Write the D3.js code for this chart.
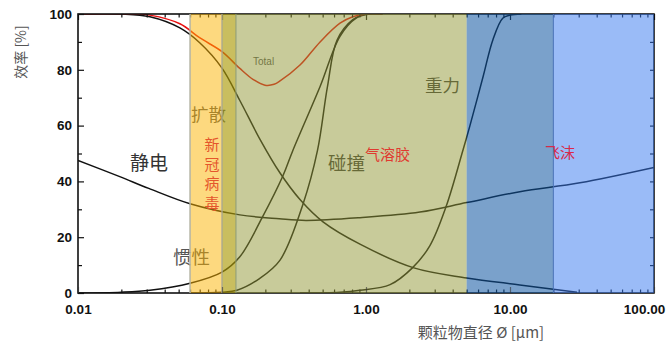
<!DOCTYPE html>
<html><head><meta charset="utf-8">
<script src="https://cdn.jsdelivr.net/npm/d3@7"></script>
<style>body{margin:0;background:#fff}svg{display:block}</style>
</head><body><svg id="c" width="671" height="353"></svg>
<script>
// ---- data ----
const xTickValues = [0.01, 0.1, 1, 10, 100];
const xTickLabels = ["0.01", "0.10", "1.00", "10.00", "100.00"];
const yTickValues = [0, 20, 40, 60, 80, 100];

const diamElectro = [0.01, 0.0195, 0.031, 0.06, 0.133, 0.25, 0.383, 0.908, 2.37, 5, 11.7, 30.6, 100];
const effElectro  = [47.5, 41.7, 37.5, 32, 28, 26.6, 26, 27, 29, 32.4, 36.3, 39.5, 45];

const diamDiffusion = [0.01, 0.02, 0.0316, 0.051, 0.0703, 0.1, 0.133, 0.184, 0.253, 0.348, 0.503, 0.908, 2.15, 5, 11.7, 29.2];
const effDiffusion  = [100, 100, 99, 95, 89.6, 80.6, 69, 55, 43, 33.5, 25.5, 17.5, 9, 5.4, 2.9, 0.3];

const diamInertia = [0.01, 0.02, 0.0316, 0.06, 0.1, 0.133, 0.19, 0.265, 0.31, 0.48, 0.66, 0.86, 1.07, 1.3];
const effInertia  = [0, 0.3, 1, 3.5, 7.5, 13, 27, 42, 51, 74, 92, 98.6, 100, 100];

const diamImpact = [0.06, 0.1, 0.127, 0.18, 0.253, 0.366, 0.46, 0.54, 0.63, 0.81, 1.0, 1.3];
const effImpact  = [0, 0.3, 1, 5, 11.8, 32, 51, 74, 90.7, 98, 100, 100];

const diamGravity = [0.348, 0.66, 0.908, 1.47, 2.1, 2.78, 3.6, 4.7, 5.27, 6.5, 7.6, 8.9, 10, 12];
const effGravity  = [0, 0.3, 1, 3, 9, 17, 31, 51, 60, 77.5, 90.7, 98.5, 99.6, 100];

const diamTotal = [0.01, 0.025, 0.0316, 0.051, 0.0703, 0.1, 0.133, 0.164, 0.199, 0.23, 0.253, 0.348, 0.48, 0.66, 0.81, 1.0, 1.3];
const effTotal  = [100, 100, 99.6, 96.5, 91.4, 86.5, 80.5, 76.6, 74.5, 74.8, 76, 81.7, 90, 96.7, 99, 100, 100];

const bandStart = [0.06, 0.1, 0.125, 5, 20];
const bandEnd   = [0.1, 0.125, 5, 20, 100];

// ---- layout ----
const svg = d3.select("#c");
const x = d3.scaleLog().domain([0.01, 100]).range([78, 654]);
const y = d3.scaleLinear().domain([0, 100]).range([293, 14]);
const tickFont = "'Liberation Sans', Arial, sans-serif";
const cjk = "'Noto Sans CJK SC', sans-serif";

const minorX = [];
for (let p = -2; p < 2; p++) for (let m = 2; m <= 9; m++) minorX.push(m * Math.pow(10, p));
const minorY = [10, 30, 50, 70, 90];
const rightY = [10, 20, 30, 40, 50, 60, 70, 80, 90];

const under = svg.append("g");

// labels below overlay
const lab = (t, xx, yy, size, color, anchor) => under.append("text").attr("x", xx).attr("y", yy)
  .attr("dy", "0.35em").attr("font-family", cjk).attr("font-size", size).attr("fill", color)
  .attr("text-anchor", anchor || "start").text(t);
lab("静电", 130, 163, 19, "#333");
lab("扩散", 191, 115, 17.5, "#555");
lab("惯性", 173, 258, 18.5, "#555");
lab("碰撞", 328, 164, 18.5, "#3a3a3a");
lab("重力", 425, 86, 17.5, "#3a3a3a");
under.append("text").attr("x", 253).attr("y", 61).attr("dy", "0.35em")
  .attr("font-family", tickFont).attr("font-size", 10).attr("fill", "#555").text("Total");

// curves
const line = d3.line().x(d => x(d[0])).y(d => Math.max(y(100), y(d[1]))).curve(d3.curveCatmullRom.alpha(0.5));
const zip = (a, b) => a.map((v, i) => [v, b[i]]);
const curves = [
  [zip(diamElectro, effElectro), "#111"],
  [zip(diamDiffusion, effDiffusion), "#111"],
  [zip(diamInertia, effInertia), "#111"],
  [zip(diamImpact, effImpact), "#111"],
  [zip(diamGravity, effGravity), "#111"],
  [zip(diamTotal, effTotal), "#e81010"]
];
under.append("clipPath").attr("id", "pc").append("rect").attr("x", 78).attr("y", 14).attr("width", 576).attr("height", 279);
const cg = under.append("g").attr("clip-path", "url(#pc)");
curves.forEach(([d, c]) => cg.append("path").attr("d", line(d)).attr("fill", "none")
  .attr("stroke", c).attr("stroke-width", 1.5));

// axes (inward ticks)
function styleAxis(g) { g.select(".domain").remove(); g.selectAll("line").attr("stroke", "#111").attr("stroke-width", 1.2); }
under.append("g").attr("transform", "translate(0,293)")
  .call(d3.axisBottom(x).tickValues(minorX).tickFormat("").tickSizeInner(-3.5).tickSizeOuter(0)).call(styleAxis);
under.append("g").attr("transform", "translate(0,14)")
  .call(d3.axisTop(x).tickValues(minorX).tickFormat("").tickSizeInner(-3.5).tickSizeOuter(0)).call(styleAxis);
under.append("g").attr("transform", "translate(0,14)")
  .call(d3.axisTop(x).tickValues(xTickValues).tickFormat("").tickSizeInner(-6).tickSizeOuter(0)).call(styleAxis);
under.append("g").attr("transform", "translate(78,0)")
  .call(d3.axisLeft(y).tickValues(minorY).tickFormat("").tickSizeInner(-4).tickSizeOuter(0)).call(styleAxis);
under.append("g").attr("transform", "translate(654,0)")
  .call(d3.axisRight(y).tickValues(rightY).tickFormat("").tickSizeInner(-4).tickSizeOuter(0)).call(styleAxis);
under.append("rect").attr("x", 78).attr("y", 14).attr("width", 576).attr("height", 279)
  .attr("fill", "none").attr("stroke", "#111").attr("stroke-width", 1.6);

// overlay bands
const bandFill = ["rgb(251,179,0)", "rgb(172,155,9)", "rgb(145,151,53)", "rgb(13,84,161)", "rgb(53,119,239)"];
const bandOpacity = [0.5, 0.65, 0.5, 0.55, 0.5];
svg.append("g").selectAll("rect").data(bandStart).join("rect")
  .attr("x", (d) => x(d)).attr("y", 14)
  .attr("width", (d, i) => x(bandEnd[i]) - x(d)).attr("height", 279)
  .attr("fill", (d, i) => bandFill[i]).attr("fill-opacity", (d, i) => bandOpacity[i]);

// band borders
const vline = (v, c, w) => svg.append("line").attr("x1", x(v)).attr("x2", x(v)).attr("y1", 14).attr("y2", 293)
  .attr("stroke", c).attr("stroke-width", w);
vline(0.06, "#b4b4a4", 1.5);
vline(0.1, "#a8a894", 1.3);
vline(0.125, "#8a9a78", 1);
vline(20, "#4a72b8", 1);

// major axis ticks with labels (bottom, left)
const xa = svg.append("g").attr("transform", "translate(0,293)")
  .call(d3.axisBottom(x).tickValues(xTickValues).tickFormat((d, i) => xTickLabels[i]).tickSizeInner(-6).tickSizeOuter(0).tickPadding(11));
xa.select(".domain").remove();
xa.selectAll("line").attr("stroke", "#333").attr("stroke-width", 1.2).attr("stroke-opacity", 0.6);
xa.selectAll("text").attr("font-family", tickFont).attr("font-weight", "bold").attr("font-size", 13.5).attr("fill", "#111")
  .attr("dx", (d, i) => i === xTickValues.length - 1 ? -10 : 0);

const ya = svg.append("g").attr("transform", "translate(78,0)")
  .call(d3.axisLeft(y).tickValues(yTickValues).tickSizeInner(-6).tickSizeOuter(0).tickPadding(6));
ya.select(".domain").remove();
ya.selectAll("line").attr("stroke", "#111").attr("stroke-width", 1.2);
ya.selectAll("text").attr("font-family", tickFont).attr("font-weight", "bold").attr("font-size", 13.5).attr("fill", "#111");

// labels on top
const topLab = (t, xx, yy, size, color) => svg.append("text").attr("x", xx).attr("y", yy).attr("dy", "0.35em")
  .attr("font-family", cjk).attr("font-size", size).attr("fill", color).text(t);
["新", "冠", "病", "毒"].forEach((ch, i) => svg.append("text").attr("x", 212).attr("y", 145 + i * 19.5)
  .attr("dy", "0.35em").attr("text-anchor", "middle").attr("font-family", cjk).attr("font-size", 15)
  .attr("fill", "#e4562c").text(ch));
topLab("气溶胶", 365, 155, 15, "#e03a30");
topLab("飞沫", 545, 153, 15, "#d8294a");

// axis titles
svg.append("text").attr("transform", "translate(21,52) rotate(-90)").attr("dy", "0.35em")
  .attr("text-anchor", "middle").attr("font-family", cjk).attr("font-size", 14).attr("fill", "#555").text("效率 [%]");
svg.append("text").attr("x", 481).attr("y", 333).attr("dy", "0.35em").attr("text-anchor", "middle")
  .attr("font-family", cjk).attr("font-size", 15).attr("fill", "#555").text("颗粒物直径 Ø [μm]");
</script></body></html>
